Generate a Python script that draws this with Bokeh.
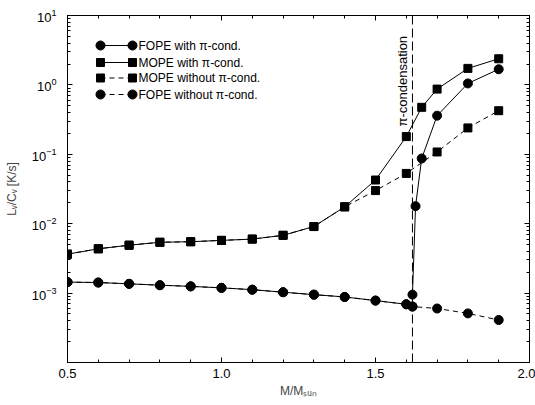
import math
from bokeh.plotting import figure
from bokeh.models import (FixedTicker, PrintfTickFormatter, LogTickFormatter, LinearAxis, LogAxis,
                          Span, Label, Arrow, PolyAnnotation, Range1d, CustomJSTickFormatter)
from bokeh.embed import file_html
from bokeh.resources import INLINE

# ---- data ----
fope_with_x = [0.5, 0.6, 0.7, 0.8, 0.9, 1.0, 1.1, 1.2, 1.3, 1.4, 1.5, 1.6, 1.62, 1.62, 1.63, 1.65, 1.7, 1.8, 1.9]
fope_with_y = [1.44e-3, 1.42e-3, 1.36e-3, 1.30e-3, 1.25e-3, 1.19e-3, 1.12e-3, 1.03e-3, 0.95e-3, 0.88e-3,
               0.78e-3, 0.69e-3, 0.64e-3, 0.95e-3, 0.0179, 0.087, 0.36, 1.05, 1.68]
fope_without_x = [0.5, 0.6, 0.7, 0.8, 0.9, 1.0, 1.1, 1.2, 1.3, 1.4, 1.5, 1.6, 1.62, 1.7, 1.8, 1.9]
fope_without_y = [1.44e-3, 1.42e-3, 1.36e-3, 1.30e-3, 1.25e-3, 1.19e-3, 1.12e-3, 1.03e-3, 0.95e-3, 0.88e-3,
                  0.78e-3, 0.69e-3, 0.64e-3, 0.60e-3, 0.51e-3, 0.41e-3]
mope_with_x = [0.5, 0.6, 0.7, 0.8, 0.9, 1.0, 1.1, 1.2, 1.3, 1.4, 1.5, 1.6, 1.65, 1.7, 1.8, 1.9]
mope_with_y = [3.64e-3, 4.35e-3, 4.9e-3, 5.4e-3, 5.5e-3, 5.75e-3, 6.0e-3, 6.8e-3, 9.1e-3, 0.0175,
               0.0426, 0.18, 0.475, 0.87, 1.73, 2.38]
mope_without_x = [0.5, 0.6, 0.7, 0.8, 0.9, 1.0, 1.1, 1.2, 1.3, 1.4, 1.5, 1.6, 1.7, 1.8, 1.9]
mope_without_y = [3.64e-3, 4.35e-3, 4.9e-3, 5.4e-3, 5.5e-3, 5.75e-3, 6.0e-3, 6.8e-3, 9.1e-3, 0.0175,
                  0.030, 0.053, 0.108, 0.24, 0.425]
pi_cond_x = 1.62
x_ticks = [0.5, 1.0, 1.5, 2.0]
y_ticks = [1e-3, 1e-2, 1e-1, 1.0, 10.0]
legend_labels = ["FOPE with \u03c0-cond.", "MOPE with \u03c0-cond.",
                 "MOPE without \u03c0-cond.", "FOPE without \u03c0-cond."]

FONT = "Liberation Sans"

p = figure(width=535, height=400, y_axis_type="log", output_backend="svg", toolbar_location=None,
           x_range=Range1d(0.5, 2.0), y_range=Range1d(1e-4, 10),
           min_border_left=67, min_border_top=15, min_border_bottom=34, min_border_right=6)
p.outline_line_color = "black"
p.xgrid.visible = False
p.ygrid.visible = False
p.background_fill_color = "white"
p.border_fill_color = "white"

x_minor = [0.5 + 0.1 * i for i in range(16)]
y_minor = [m * 10.0 ** e for e in range(-4, 1) for m in range(2, 10)]

def style_axis(ax, labels=True):
    ax.axis_line_color = "black"
    ax.major_tick_in = 5
    ax.major_tick_out = 0
    ax.minor_tick_in = 3
    ax.minor_tick_out = 0
    ax.major_tick_line_color = "black"
    ax.minor_tick_line_color = "black"
    ax.major_label_text_font = FONT
    ax.major_label_text_font_size = "13px"
    ax.major_label_text_color = "black" if labels else None
    ax.major_label_standoff = 4 if labels else 0
    ax.axis_label_text_font = FONT
    ax.axis_label_text_font_style = "normal"
    ax.axis_label_text_font_size = "12px"
    if not labels:
        ax.axis_label_standoff = 0

xt = FixedTicker(ticks=x_ticks, minor_ticks=x_minor)
yt = FixedTicker(ticks=y_ticks, minor_ticks=y_minor)

p.xaxis.ticker = xt
p.xaxis.formatter = PrintfTickFormatter(format="%.1f")
style_axis(p.xaxis[0])
p.xaxis.axis_label = "M/M\u209b\u1d64\u2099"
p.xaxis.axis_label_standoff = 3
p.xaxis.major_label_standoff = 6

p.yaxis.ticker = yt
p.yaxis.formatter = LogTickFormatter()
style_axis(p.yaxis[0])
p.yaxis.axis_label = "L\u1d65/C\u1d65 [K/s]"
p.yaxis.axis_label_standoff = 10
p.yaxis.major_label_standoff = 11

top = LinearAxis(ticker=xt, formatter=CustomJSTickFormatter(code="return ''"))
style_axis(top, labels=False)
p.add_layout(top, "above")
right = LogAxis(ticker=yt, formatter=CustomJSTickFormatter(code="return ''"))
style_axis(right, labels=False)
p.add_layout(right, "right")

# ---- series ----
p.line(fope_without_x, fope_without_y, line_color="black", line_width=1, line_dash="5 4")
p.line(mope_without_x, mope_without_y, line_color="black", line_width=1, line_dash="5 4")
p.line(mope_with_x, mope_with_y, line_color="black", line_width=1)
p.line(fope_with_x, fope_with_y, line_color="black", line_width=1)
p.scatter(fope_without_x, fope_without_y, marker="circle", size=9, color="black")
p.scatter(mope_without_x, mope_without_y, marker="square", size=8, color="black")
p.scatter(mope_with_x, mope_with_y, marker="square", size=8, color="black")
p.scatter(fope_with_x, fope_with_y, marker="circle", size=9, color="black")

p.add_layout(Span(location=pi_cond_x, dimension="height", line_color="black", line_width=1, line_dash="9 4"))
p.add_layout(Label(x=pi_cond_x, y=1.13, text="\u03c0-condensation", angle=math.pi / 2,
                   text_align="center", text_baseline="bottom", x_offset=-2,
                   text_font=FONT, text_font_size="13px", text_color="black"))

# ---- legend (screen units, relative to frame) ----
rows_y = [317, 300, 284.5, 268]
markers = ["circle", "square", "square", "circle"]
dashes = ["solid", "solid", "5 4", "5 4"]
x0, x1, xt_ = 33, 65, 71

def poly(cx, cy, kind):
    if kind == "square":
        h = 4
        xs = [cx - h, cx + h, cx + h, cx - h]
        ys = [cy - h, cy - h, cy + h, cy + h]
    else:
        r = 4.5
        xs = [cx + r * math.cos(2 * math.pi * k / 24) for k in range(24)]
        ys = [cy + r * math.sin(2 * math.pi * k / 24) for k in range(24)]
    return PolyAnnotation(xs=xs, ys=ys, xs_units="screen", ys_units="screen",
                          fill_color="black", fill_alpha=1, line_color="black", line_alpha=1)

for yy, mk, ds, lab in zip(rows_y, markers, dashes, legend_labels):
    p.add_layout(Arrow(x_start=x0, y_start=yy, x_end=x1, y_end=yy, start_units="screen", end_units="screen",
                       start=None, end=None, line_color="black", line_width=1, line_dash=ds))
    p.add_layout(poly(x0, yy, mk))
    p.add_layout(poly(x1, yy, mk))
    p.add_layout(Label(x=xt_, y=yy, x_units="screen", y_units="screen", text=lab,
                       text_baseline="middle", text_align="left",
                       text_font=FONT, text_font_size="12px", text_color="black"))

open("out.html", "w").write(file_html(p, INLINE))
